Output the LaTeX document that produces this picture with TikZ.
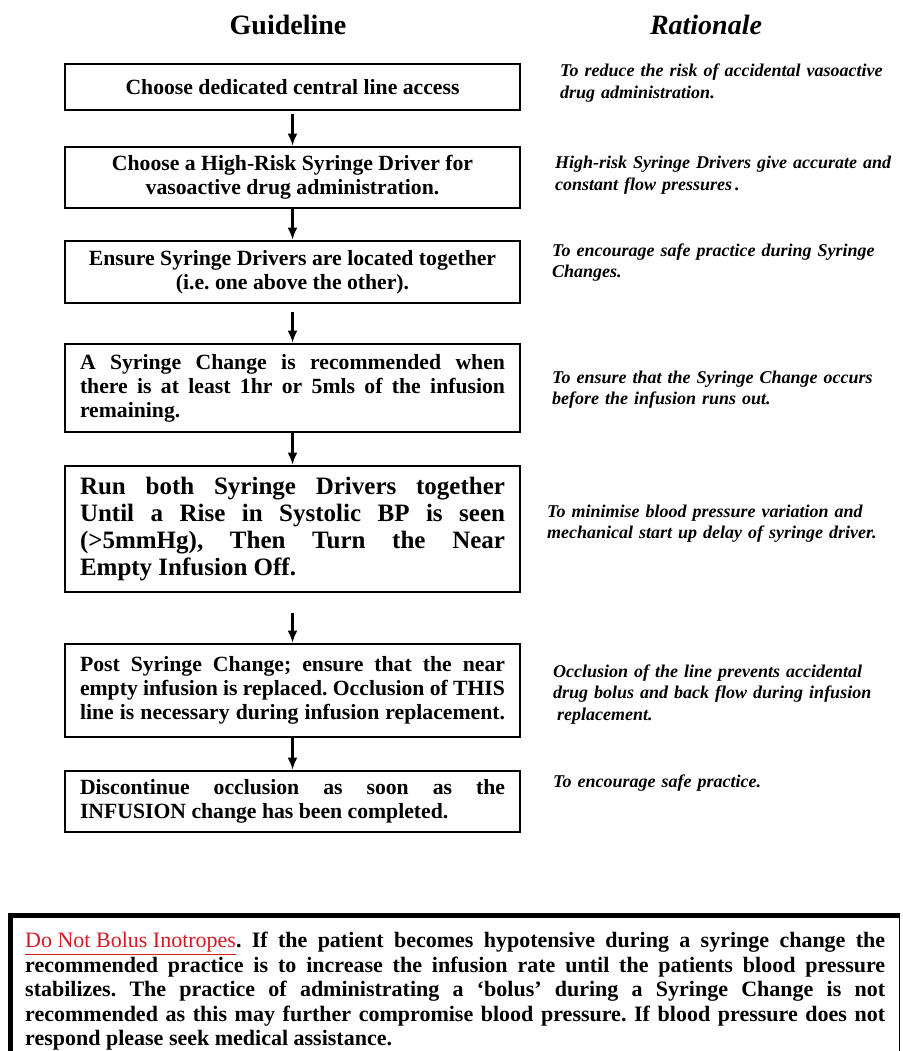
\documentclass[tikz,border=0pt]{standalone}
\usepackage{fontspec}
\setmainfont{Liberation Serif}
\usetikzlibrary{arrows.meta}
\definecolor{warnred}{RGB}{215,25,35}
\newcommand{\jl}[2][425pt]{\hbox to #1{#2}}
\frenchspacing
\begin{document}
\begin{tikzpicture}[x=1pt,y=-1pt,
  head/.style={inner sep=0pt, font=\bfseries\fontsize{28}{32}\selectfont},
  gbox/.style={draw, line width=2.8pt, minimum width=455pt, inner sep=0pt,
    align=center, font=\bfseries\fontsize{21.7}{24}\selectfont},
  jbox/.style={gbox, align=left},
  rat/.style={anchor=base west, text width=340pt, align=left, inner sep=0pt,
    font=\bfseries\itshape\fontsize{18}{21.5}\selectfont},
  flow/.style={-{Latex[length=12pt,width=10pt]}, line width=2.1pt}]
\useasboundingbox (0,0) rectangle (902,1051);
\fill[white] (0,0) rectangle (902,1051);

\node[head] (hg) at (288,25) {Guideline};
\node[head, font=\bfseries\itshape\fontsize{28}{32}\selectfont] (hr) at (706,25) {Rationale};

\node[gbox, minimum height=46pt] (b1) at (292.5,87) {Choose dedicated central line access};
\node[gbox, minimum height=61pt] (b2) at (292.5,177.5) {Choose a High-Risk Syringe Driver for\\vasoactive drug administration.};
\node[gbox, minimum height=62pt] (b3) at (292.5,272) {Ensure Syringe Drivers are located together\\(i.e. one above the other).};
\node[jbox, minimum height=88pt] (b4) at (292.5,388) {\jl{A Syringe Change is recommended when}\\\jl{there is at least 1hr or 5mls of the infusion}\\remaining.};
\node[jbox, minimum height=126pt, font=\bfseries\fontsize{25}{27}\selectfont] (b5) at (292.5,529) {\jl{Run both Syringe Drivers together}\\\jl{Until a Rise in Systolic BP is seen}\\\jl{(>5mmHg), Then Turn the Near}\\Empty Infusion Off.};
\node[jbox, minimum height=93pt] (b6) at (292.5,690.5) {\jl{Post Syringe Change; ensure that the near}\\\jl{empty infusion is replaced. Occlusion of THIS}\\\jl{line is necessary during infusion replacement.}};
\node[jbox, minimum height=61pt] (b7) at (292.5,801.5) {\jl{Discontinue occlusion as soon as the}\\INFUSION change has been completed.};

\draw[flow, shorten <=3pt] (b1.south) -- (b2.north);
\draw[flow] (b2.south) -- (b3.north);
\draw[flow, shorten <=8pt] (b3.south) -- (b4.north);
\draw[flow] (b4.south) -- (b5.north);
\draw[flow, shorten <=20pt] (b5.south) -- (b6.north);
\draw[flow] (b6.south) -- (b7.north);

\node[rat] (r1) at (560,77) {To reduce the risk of accidental vasoactive\\drug administration.};
\node[rat] (r2) at (555,169) {High-risk Syringe Drivers give accurate and\\constant flow pressures\,.};
\node[rat] (r3) at (552,256) {To encourage safe practice during Syringe\\Changes.};
\node[rat] (r4) at (552,383) {To ensure that the Syringe Change occurs\\before the infusion runs out.};
\node[rat] (r5) at (547,517) {To minimise blood pressure variation and\\mechanical start up delay of syringe driver.};
\node[rat] (r6) at (553,677) {Occlusion of the line prevents accidental\\drug bolus and back flow during infusion\\\hspace*{4pt}replacement.};
\node[rat] (r7) at (553,787) {To encourage safe practice.};

\draw[line width=5pt] (10,1060) -- (10,915.5) -- (900,915.5);
\draw[line width=1.5pt] (899.5,915) -- (899.5,1060);
\node[anchor=north west, align=left, inner sep=0pt,
  font=\bfseries\fontsize{22}{24.5}\selectfont] (note) at (25,932)
  {\jl[860pt]{{\color{warnred}\mdseries\underline{Do Not Bolus Inotropes}}. If the patient becomes hypotensive during a syringe change the}\\
   \jl[860pt]{recommended practice is to increase the infusion rate until the patients blood pressure}\\
   \jl[860pt]{stabilizes. The practice of administrating a ‘bolus’ during a Syringe Change is not}\\
   \jl[860pt]{recommended as this may further compromise blood pressure. If blood pressure does not}\\
   respond please seek medical assistance.};
\end{tikzpicture}
\end{document}
